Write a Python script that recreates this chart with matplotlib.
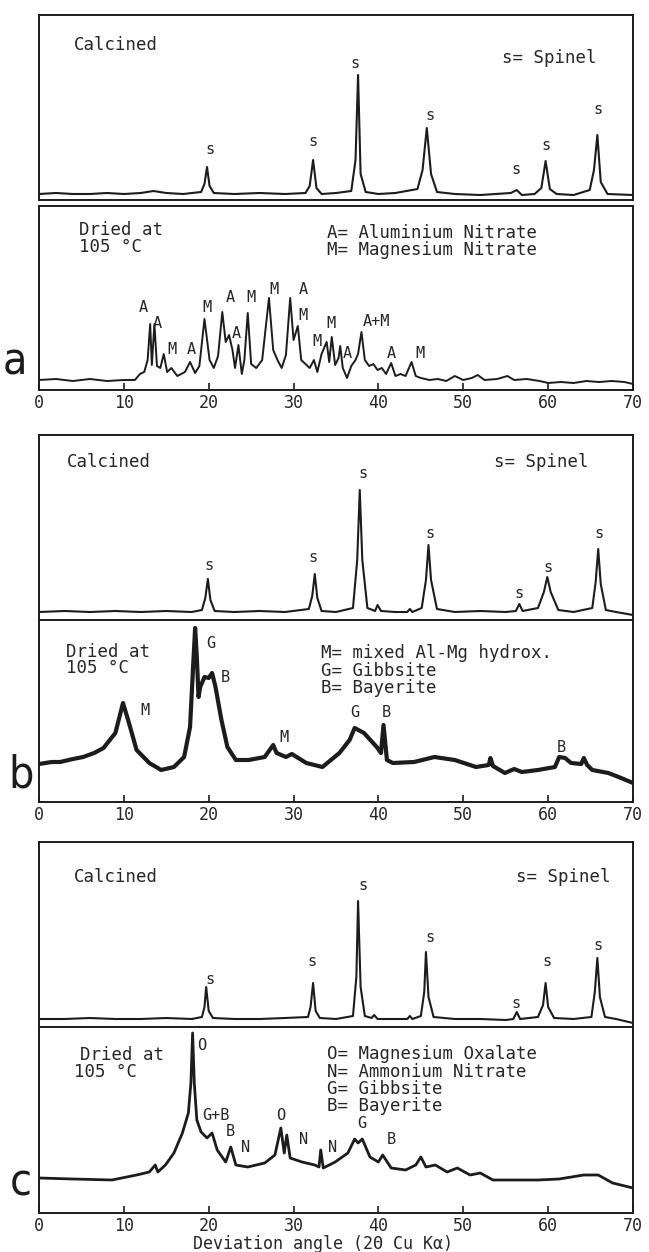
import matplotlib
matplotlib.use("Agg")
import matplotlib.pyplot as plt

plt.rcParams['font.family'] = ['DejaVu Sans Mono', 'DejaVu Sans']

# ---- data (2theta in degrees, intensity in arbitrary units) ----
a_calc_x = [0, 2, 4, 6, 8, 10, 12, 13.5, 15, 17, 19.1, 19.5, 19.8, 20.1, 20.6, 23, 26, 29,
            31.4, 31.9, 32.3, 32.7, 33.3, 35, 36.8, 37.3, 37.6, 37.9, 38.5, 40, 42,
            44.6, 45.2, 45.7, 46.2, 46.9, 49, 52, 55.6, 56.3, 56.9, 58.4,
            59.2, 59.7, 60.2, 61.0, 63, 64.9, 65.4, 65.8, 66.2, 67, 70]
a_calc_y = [6, 7, 6, 6, 7, 6, 7, 9, 7, 6, 8, 16, 33, 14, 7, 6, 7, 6,
            7, 14, 40, 12, 6, 7, 9, 40, 125, 26, 8, 6, 7,
            11, 30, 72, 26, 8, 6, 5, 7, 10, 5, 6,
            12, 39, 11, 6, 5, 10, 30, 65, 18, 6, 5]

a_dry_x = [0, 2, 4, 6, 8, 10, 11.3, 11.9, 12.4, 12.8,
           13.1, 13.3, 13.6, 13.9, 14.3, 14.7, 15.1, 15.6, 16.3, 17.2,
           17.8, 18.4, 18.9, 19.5, 20.1, 20.6, 21.1, 21.6, 22.0, 22.4,
           22.8, 23.1, 23.5, 23.9, 24.2, 24.6, 25.0, 25.6, 26.3, 27.1,
           27.6, 28.1, 28.6, 29.1, 29.6, 30.0, 30.5, 30.9, 31.4, 31.9,
           32.4, 32.8, 33.3, 33.9, 34.2, 34.5, 34.9, 35.3, 35.5, 35.8,
           36.3, 36.8, 37.3, 37.6, 38.0, 38.4, 38.9, 39.4, 39.9, 40.4,
           40.9, 41.5, 42.0, 42.6, 43.2, 43.9, 44.4, 45.0, 46.0, 47.0,
           48.0, 49.0, 50.0, 51.0, 51.7, 52.5, 54.0, 55.2, 56.0, 57.5,
           59.0, 60.0, 61.5, 63.0, 64.5, 66.0, 67.5, 69.0, 70.0]
a_dry_y = [10, 11, 9, 11, 9, 10, 10, 16, 18, 30,
           66, 25, 66, 24, 22, 36, 18, 22, 14, 18,
           28, 17, 24, 71, 30, 22, 34, 78, 48, 55,
           40, 22, 45, 16, 30, 77, 26, 22, 30, 92,
           40, 30, 22, 35, 92, 50, 64, 30, 26, 22,
           30, 18, 36, 48, 28, 53, 25, 32, 44, 22,
           12, 24, 30, 36, 58, 30, 24, 26, 20, 22,
           16, 27, 14, 16, 14, 28, 14, 12, 10, 11,
           9, 14, 10, 12, 15, 10, 11, 14, 10, 11,
           9, 7, 8, 7, 9, 8, 9, 8, 6]

b_calc_x = [0, 3, 6, 9, 12, 15, 18, 19.2, 19.6, 19.9,
            20.2, 20.7, 23, 26, 29, 31.8, 32.2, 32.5, 32.8, 33.3,
            35, 37.0, 37.5, 37.8, 38.1, 38.7, 39.6, 39.9, 40.3, 42,
            43.4, 43.7, 44.0, 45.1, 45.6, 45.9, 46.2, 46.9, 49, 52,
            55, 56.2, 56.6, 57.0, 58.8, 59.5, 59.9, 60.3, 61.2, 63,
            65.2, 65.6, 65.9, 66.2, 66.8, 68, 70]
b_calc_y = [8, 9, 8, 9, 8, 9, 8, 10, 22, 41,
            20, 9, 8, 9, 8, 11, 24, 46, 22, 9,
            8, 12, 60, 130, 60, 12, 9, 15, 9, 8,
            8, 11, 8, 12, 40, 75, 40, 11, 8, 9,
            8, 9, 16, 9, 12, 28, 43, 28, 10, 8,
            12, 38, 71, 36, 10, 8, 5]

b_dry_x = [0, 1.5, 2.5, 4.0, 5.2, 6.5, 7.6, 9.0, 9.9, 10.5,
           11.5, 13.0, 14.4, 15.9, 17.1, 17.8, 18.2, 18.4, 18.6, 18.8,
           19.0, 19.5, 20.0, 20.4, 20.8, 21.5, 22.2, 23.2, 24.7, 26.6,
           27.6, 28.0, 29.1, 29.8, 31.5, 33.4, 35.4, 36.6, 37.2, 38.3,
           39.8, 40.3, 40.6, 41.0, 41.7, 44.2, 46.6, 49.0, 51.5, 53.0,
           53.2, 53.5, 54.9, 56.0, 56.9, 58.8, 60.8, 61.3, 62.0, 62.7,
           63.9, 64.2, 64.6, 65.2, 67.1, 68.6, 70]
b_dry_y = [38, 40, 40, 43, 45, 49, 54, 69, 99, 82,
           52, 39, 32, 35, 45, 75, 142, 174, 145, 105,
           115, 125, 124, 129, 115, 82, 55, 42, 42, 45,
           57, 49, 45, 48, 39, 35, 49, 62, 74, 69,
           55, 49, 77, 42, 39, 40, 45, 42, 35, 37,
           44, 36, 29, 33, 30, 32, 35, 45, 44, 39,
           38, 44, 37, 32, 29, 24, 19]

c_calc_x = [0, 3, 6, 9, 12, 15, 18, 19.2, 19.5, 19.7,
            20.0, 20.5, 23, 26, 29, 31.7, 32.0, 32.3, 32.6, 33.1,
            35, 37.0, 37.4, 37.6, 37.9, 38.4, 39.2, 39.5, 39.9, 42,
            43.4, 43.7, 44.0, 45.0, 45.4, 45.6, 45.9, 46.5, 49, 52,
            55, 55.9, 56.3, 56.7, 58.8, 59.4, 59.7, 60.0, 60.7, 63,
            65.1, 65.5, 65.8, 66.1, 66.7, 68, 70]
c_calc_y = [8, 8, 9, 8, 8, 9, 8, 10, 20, 40,
            16, 9, 8, 8, 9, 10, 20, 44, 16, 9,
            8, 11, 50, 126, 40, 11, 9, 12, 8, 8,
            8, 11, 8, 11, 35, 75, 30, 10, 8, 8,
            7, 8, 15, 8, 10, 22, 44, 20, 9, 8,
            10, 35, 69, 30, 10, 8, 4]

c_dry_x = [0, 4, 8.6, 11.5, 13.0, 13.7, 14.0, 14.9, 15.9, 16.9,
           17.6, 17.9, 18.1, 18.3, 18.6, 19.1, 19.8, 20.4, 21.0, 22.0,
           22.6, 23.2, 24.6, 26.6, 27.8, 28.5, 28.9, 29.2, 29.6, 31.0,
           32.5, 33.0, 33.2, 33.5, 34.9, 36.4, 37.2, 37.6, 38.1, 39.0,
           40.0, 40.5, 41.5, 43.2, 44.4, 45.0, 45.6, 46.7, 48.1, 49.3,
           50.8, 52.0, 53.5, 55.9, 58.8, 61.3, 64.2, 65.9, 67.6, 70]
c_dry_y = [35, 34, 33, 38, 41, 48, 41, 48, 60, 80,
           100, 130, 180, 130, 93, 81, 75, 80, 63, 51,
           66, 48, 46, 50, 58, 85, 60, 78, 55, 51,
           48, 46, 63, 45, 51, 60, 74, 70, 74, 56,
           51, 58, 45, 43, 48, 56, 46, 48, 41, 45,
           38, 40, 33, 33, 33, 34, 38, 38, 30, 25]

# peak labels: text, 2theta, intensity
a_calc_lab = ['s'] * 7
a_calc_lx = [20.2, 32.3, 37.2, 46.1, 56.2, 59.7, 65.9]
a_calc_ly = [50, 58, 136, 84, 30, 55, 90]

a_dry_lab = ['A', 'A', 'M', 'A', 'M', 'A', 'A', 'M', 'M', 'A', 'M', 'M', 'M', 'A', 'A+M', 'A', 'M']
a_dry_lx = [12.3, 13.9, 15.7, 18.0, 19.8, 22.5, 23.3, 25.0, 27.7, 31.1, 31.1, 32.8, 34.4, 36.3, 39.8, 41.5, 44.9]
a_dry_ly = [83, 67, 41, 41, 83, 93, 57, 93, 101, 100, 74, 48, 66, 36, 69, 36, 36]

b_calc_lab = ['s'] * 7
b_calc_lx = [20.0, 32.3, 38.2, 46.1, 56.6, 60.0, 66.0]
b_calc_ly = [54, 63, 147, 87, 27, 53, 86]

b_dry_lab = ['M', 'G', 'B', 'M', 'G', 'B', 'B']
b_dry_lx = [12.5, 20.2, 21.9, 28.9, 37.2, 40.9, 61.6]
b_dry_ly = [92, 159, 125, 65, 90, 90, 55]

c_calc_lab = ['s'] * 7
c_calc_lx = [20.2, 32.2, 38.2, 46.1, 56.2, 59.9, 65.9]
c_calc_ly = [48, 65, 142, 90, 24, 65, 82]

c_dry_lab = ['O', 'G+B', 'B', 'N', 'O', 'N', 'N', 'G', 'B']
c_dry_lx = [19.2, 20.9, 22.6, 24.3, 28.5, 31.2, 34.6, 38.0, 41.5]
c_dry_ly = [168, 98, 82, 65, 98, 74, 65, 90, 74]

xticks = [0, 10, 20, 30, 40, 50, 60, 70]

# ---- figure ----
W, H = 649, 1252
fig = plt.figure(figsize=(W / 100, H / 100), dpi=100, facecolor='white')
ink = '#1c1c1c'
txt = '#262626'


def add_box(top, bot):
    ax = fig.add_axes([39 / W, 1 - bot / H, (633 - 39) / W, (bot - top) / H])
    ax.set_xlim(0, 70)
    ax.set_ylim(0, bot - top)
    ax.set_yticks([])
    for s in ax.spines.values():
        s.set_linewidth(1.4)
        s.set_color(ink)
    return ax


def ftext(px, py, s, **kw):
    kw.setdefault('fontsize', 12.5)
    kw.setdefault('color', txt)
    kw.setdefault('va', 'center')
    fig.text(px / W, 1 - py / H, s, **kw)


def peak_labels(ax, labs, xs, ys):
    for lab, x, y in zip(labs, xs, ys):
        ax.text(x, y, lab, ha='center', va='center', fontsize=11, color=txt)


panels = [
    dict(top=(15, 200), bot=(206, 390),
         calc=(a_calc_x, a_calc_y, a_calc_lab, a_calc_lx, a_calc_ly),
         dry=(a_dry_x, a_dry_y, a_dry_lab, a_dry_lx, a_dry_ly), lw=1.4),
    dict(top=(435, 620), bot=(620, 802),
         calc=(b_calc_x, b_calc_y, b_calc_lab, b_calc_lx, b_calc_ly),
         dry=(b_dry_x, b_dry_y, b_dry_lab, b_dry_lx, b_dry_ly), lw=3.0),
    dict(top=(842, 1027), bot=(1027, 1213),
         calc=(c_calc_x, c_calc_y, c_calc_lab, c_calc_lx, c_calc_ly),
         dry=(c_dry_x, c_dry_y, c_dry_lab, c_dry_lx, c_dry_ly), lw=2.0),
]

for p in panels:
    ax1 = add_box(*p['top'])
    x, y, labs, lx, ly = p['calc']
    ax1.plot(x, y, color=ink, lw=1.5)
    peak_labels(ax1, labs, lx, ly)
    ax1.set_xticks([])
    if p['top'][1] == p['bot'][0]:
        ax1.spines['bottom'].set_visible(False)

    ax2 = add_box(*p['bot'])
    x, y, labs, lx, ly = p['dry']
    ax2.plot(x, y, color=ink, lw=p['lw'])
    peak_labels(ax2, labs, lx, ly)
    ax2.set_xticks(xticks)
    ax2.set_xticklabels([str(t) for t in xticks])
    ax2.tick_params(axis='x', direction='in', length=5, width=1.2, pad=3,
                    labelsize=12, colors=ink, labelcolor=txt, top=False)

# panel texts
ftext(74, 45, 'Calcined')
ftext(596, 58, 's= Spinel', ha='right')
ftext(79, 230, 'Dried at')
ftext(79, 247, '105 °C')
ftext(327, 233, 'A= Aluminium Nitrate')
ftext(327, 250, 'M= Magnesium Nitrate')

ftext(67, 462, 'Calcined')
ftext(588, 462, 's= Spinel', ha='right')
ftext(66, 652, 'Dried at')
ftext(66, 668, '105 °C')
ftext(321, 653, 'M= mixed Al-Mg hydrox.')
ftext(321, 671, 'G= Gibbsite')
ftext(321, 688, 'B= Bayerite')

ftext(74, 877, 'Calcined')
ftext(610, 877, 's= Spinel', ha='right')
ftext(80, 1055, 'Dried at')
ftext(74, 1072, '105 °C')
ftext(327, 1054, 'O= Magnesium Oxalate')
ftext(327, 1072, 'N= Ammonium Nitrate')
ftext(327, 1089, 'G= Gibbsite')
ftext(327, 1106, 'B= Bayerite')

# panel letters
for letter, px, py in [('a', 15, 362), ('b', 21, 775), ('c', 21, 1183)]:
    ftext(px, py, letter, ha='center', fontsize=32, family='DejaVu Sans',
          fontweight='light', fontstretch='condensed', color=ink)

ftext(323, 1244, 'Deviation angle (2Θ Cu Kα)', ha='center', fontsize=12)

fig.savefig('out.png', dpi=100, facecolor='white')
